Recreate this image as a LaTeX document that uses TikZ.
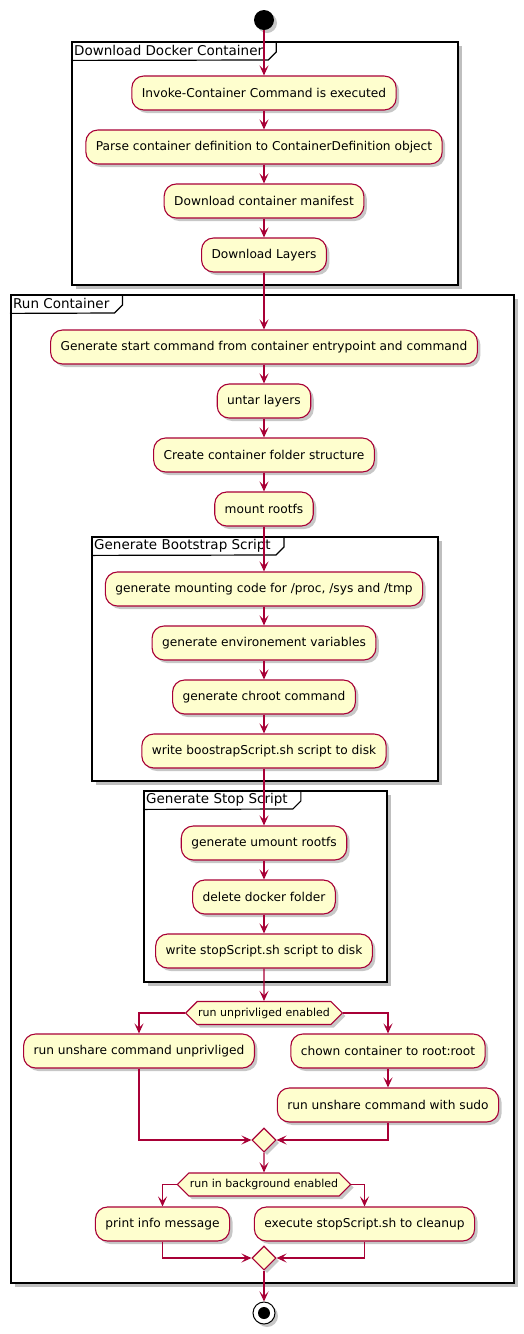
\documentclass[tikz,border=0pt]{standalone}
\usepackage{fontspec}
\setmainfont{DejaVu Sans}
\usetikzlibrary{shapes.geometric,shapes.symbols,arrows.meta,shadows}
\definecolor{umlred}{HTML}{A80036}
\definecolor{umlfill}{HTML}{FEFECE}
\tikzset{
  shd/.style={drop shadow={shadow xshift=3pt, shadow yshift=-3pt, opacity=0.22, fill=black}},
  act/.style={draw=umlred, fill=umlfill, line width=1.1pt, rounded corners=12pt,
    inner xsep=10pt, inner ysep=0pt, minimum height=34pt,
    font=\fontsize{12.2}{14}\selectfont, shd},
  decision/.style={signal, signal to=west and east, signal pointer angle=90,
    draw=umlred, fill=umlfill, line width=1.1pt, inner xsep=1pt, inner ysep=0pt,
    minimum height=23pt, font=\fontsize{11}{13}\selectfont, shd},
  merge/.style={diamond, draw=umlred, fill=umlfill, line width=1.1pt,
    minimum width=24pt, minimum height=24pt, inner sep=0pt, shd},
  flow/.style={draw=umlred, line width=1.1pt, -{Stealth[length=10pt,width=9pt,inset=4.5pt]}},
  frame/.style={draw=black, line width=1.8pt, fill=white, inner sep=0pt,
    anchor=north west, drop shadow={shadow xshift=4pt, shadow yshift=-4pt, opacity=0.25, fill=black}},
  ftitle/.style={anchor=north west, inner xsep=3pt, inner ysep=0pt,
    minimum height=19pt, font=\fontsize{13.5}{15}\selectfont},
  ftab/.style={draw=black, line width=1.2pt},
}
\begin{document}
\begin{tikzpicture}[x=1pt,y=-1pt]
\useasboundingbox (0,0) rectangle (524,1334);

% frames
\node[frame, minimum width=386pt, minimum height=243pt] (f1) at (71,41) {};
\node[ftitle] (f1t) at (f1.north west) {Download Docker Container};
\draw[ftab] (f1t.north east) ++(10pt,0) -- ++(0,-11pt) -- ++(-8pt,-8pt) -- (f1t.south west);

\node[frame, minimum width=503pt, minimum height=988pt] (f2) at (10,294) {};
\node[ftitle] (f2t) at (f2.north west) {Run Container};
\draw[ftab] (f2t.north east) ++(10pt,0) -- ++(0,-11pt) -- ++(-8pt,-8pt) -- (f2t.south west);

\node[frame, minimum width=346pt, minimum height=244pt] (f3) at (91,536) {};
\node[ftitle] (f3t) at (f3.north west) {Generate Bootstrap Script};
\draw[ftab] (f3t.north east) ++(10pt,0) -- ++(0,-11pt) -- ++(-8pt,-8pt) -- (f3t.south west);

\node[frame, minimum width=243pt, minimum height=191pt] (f4) at (143,790) {};
\node[ftitle] (f4t) at (f4.north west) {Generate Stop Script};
\draw[ftab] (f4t.north east) ++(10pt,0) -- ++(0,-11pt) -- ++(-8pt,-8pt) -- (f4t.south west);

% start
\node[circle, fill=black, minimum size=20pt, inner sep=0pt, shd] (start) at (264,20) {};

% activities
\node[act] (n1) at (264,93) {Invoke-Container Command is executed};
\node[act] (n2) at (264,147) {Parse container definition to ContainerDefinition object};
\node[act] (n3) at (264,201) {Download container manifest};
\node[act] (n4) at (264,255) {Download Layers};
\node[act] (n5) at (264,347) {Generate start command from container entrypoint and command};
\node[act] (n6) at (264,401) {untar layers};
\node[act] (n7) at (264,455) {Create container folder structure};
\node[act] (n8) at (264,509) {mount rootfs};
\node[act] (n9) at (264,589) {generate mounting code for /proc, /sys and /tmp};
\node[act] (n10) at (264,643) {generate environement variables};
\node[act] (n11) at (264,697) {generate chroot command};
\node[act] (n12) at (264,751) {write boostrapScript.sh script to disk};
\node[act] (n13) at (264,843) {generate umount rootfs};
\node[act] (n14) at (264,897) {delete docker folder};
\node[act] (n15) at (264,951) {write stopScript.sh script to disk};

\node[decision] (d1) at (264,1013) {run unprivliged enabled};
\node[act] (n16) at (139,1051) {run unshare command unprivliged};
\node[act] (n17) at (388,1051) {chown container to root:root};
\node[act] (n18) at (388,1105) {run unshare command with sudo};
\node[merge] (m1) at (264,1140) {};

\node[decision] (d2) at (264,1184.5) {run in background enabled};
\node[act] (n19) at (162.5,1224) {print info message};
\node[act] (n20) at (364.5,1224) {execute stopScript.sh to cleanup};
\node[merge] (m2) at (264,1258) {};

% end
\node[circle, draw=black, fill=white, line width=1pt, minimum size=22pt, inner sep=0pt, shd] (stop) at (264,1313) {};
\node[circle, fill=black, minimum size=12pt, inner sep=0pt] (stopdot) at (stop) {};

% connectors
\draw[flow] (start) -- (n1);
\draw[flow] (n1) -- (n2);
\draw[flow] (n2) -- (n3);
\draw[flow] (n3) -- (n4);
\draw[flow] (n4) -- (n5);
\draw[flow] (n5) -- (n6);
\draw[flow] (n6) -- (n7);
\draw[flow] (n7) -- (n8);
\draw[flow] (n8) -- (n9);
\draw[flow] (n9) -- (n10);
\draw[flow] (n10) -- (n11);
\draw[flow] (n11) -- (n12);
\draw[flow] (n12) -- (n13);
\draw[flow] (n13) -- (n14);
\draw[flow] (n14) -- (n15);
\draw[flow] (n15) -- (d1);
\draw[flow] (d1.west) -| (n16.north);
\draw[flow] (d1.east) -| (n17.north);
\draw[flow] (n17) -- (n18);
\draw[flow] (n16.south) |- (m1.west);
\draw[flow] (n18.south) |- (m1.east);
\draw[flow] (m1) -- (d2);
\draw[flow] (d2.west) -| (n19.north);
\draw[flow] (d2.east) -| (n20.north);
\draw[flow] (n19.south) |- (m2.west);
\draw[flow] (n20.south) |- (m2.east);
\draw[flow] (m2) -- (stop);
\end{tikzpicture}
\end{document}
